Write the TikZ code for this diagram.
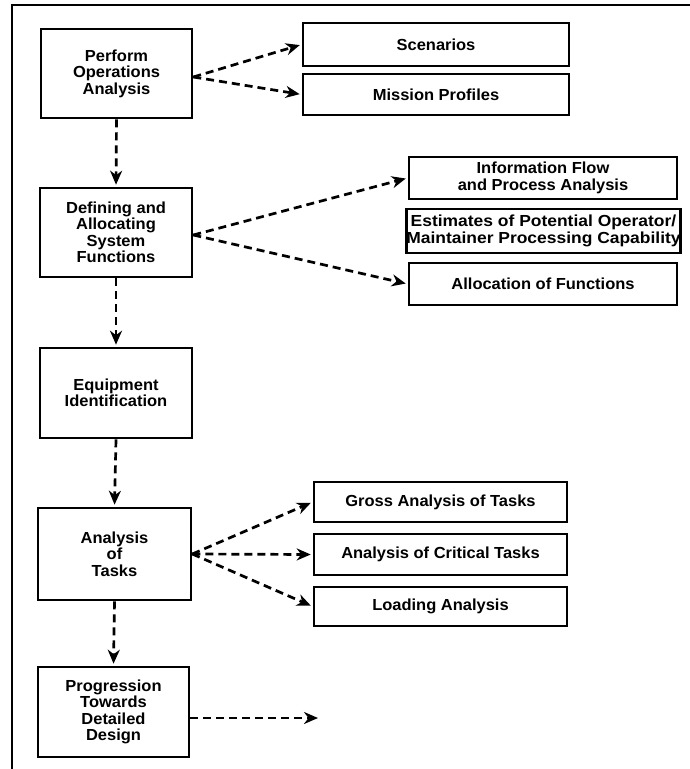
\documentclass[tikz,border=0pt]{standalone}
\usepackage{fontspec}
\setmainfont{Liberation Sans}[FakeStretch=1.03]
\newfontfamily\widefont{Liberation Sans}[FakeStretch=1.09]
\usetikzlibrary{arrows.meta}
\tikzset{
  box/.style={draw, line width=2.6pt, inner sep=1pt, align=center,
    font=\fontsize{16}{16.5}\selectfont\bfseries},
  darr/.style={line width=2.7pt, dash pattern=on 8pt off 5pt,
    -{Stealth[length=14pt,width=12pt,inset=4.5pt]}, shorten >=2pt},
  frame/.style={line width=2.2pt}
}
\begin{document}
\begin{tikzpicture}[x=1pt,y=-1pt]
\useasboundingbox (0,0) rectangle (690,769);
\draw[frame] (12,769) -- (12,5) -- (690,5);
% left column
\node[box, minimum width=151pt, minimum height=89pt] (b1) at (116.5,73.5) {Perform\\Operations\\Analysis};
\node[box, minimum width=152pt, minimum height=89pt] (b2) at (116,232.5) {Defining and\\Allocating\\System\\Functions};
\node[box, minimum width=152pt, minimum height=90pt] (b3) at (116,393) {Equipment\\Identification};
\node[box, minimum width=153pt, minimum height=92pt] (b4) at (114.5,554) {Analysis\\of\\Tasks};
\node[box, minimum width=151pt, minimum height=90pt] (b5) at (113.5,712) {Progression\\Towards\\Detailed\\Design};
% right boxes
\node[box, minimum width=266pt, minimum height=43pt] (scen) at (436,44.5) {Scenarios};
\node[box, minimum width=266pt, minimum height=41pt] (miss) at (436,94.5) {Mission Profiles};
\node[box, minimum width=268pt, minimum height=42pt] (info) at (543,178) {Information Flow\\and Process Analysis};
\node[box, minimum width=269pt, minimum height=44pt, inner sep=0pt, font=\fontsize{16}{16.5}\selectfont\widefont\bfseries] (est) at (543.5,231) {Estimates of Potential Operator/\\Maintainer Processing Capability};
\node[box, minimum width=268pt, minimum height=42pt] (alloc) at (543,284) {Allocation of Functions};
\node[box, minimum width=253pt, minimum height=40pt] (gross) at (440.5,502) {Gross Analysis of Tasks};
\node[box, minimum width=253pt, minimum height=41pt] (crit) at (440.5,554.5) {Analysis of Critical Tasks};
\node[box, minimum width=253pt, minimum height=39pt] (load) at (440.5,606.5) {Loading Analysis};
\coordinate (next) at (320,718);
% connectors
\draw[darr] (b1.south) -- (b2.north);
\draw[darr] (b2.south) -- (b3.north);
\draw[darr] (b3.south) -- (b4.north);
\draw[darr] (b4.south) -- (b5.north);
\draw[darr] ([yshift=-3.5pt]b1.east) -- (scen.west);
\draw[darr] ([yshift=-3.5pt]b1.east) -- (miss.west);
\draw[darr] ([yshift=-2.5pt]b2.east) -- (info.west);
\draw[darr] ([yshift=-2.5pt]b2.east) -- (alloc.west);
\draw[darr] (b4.east) -- (gross.west);
\draw[darr] (b4.east) -- (crit.west);
\draw[darr] (b4.east) -- (load.west);
\draw[darr] (b5.east |- next) -- (next);
\end{tikzpicture}
\end{document}
